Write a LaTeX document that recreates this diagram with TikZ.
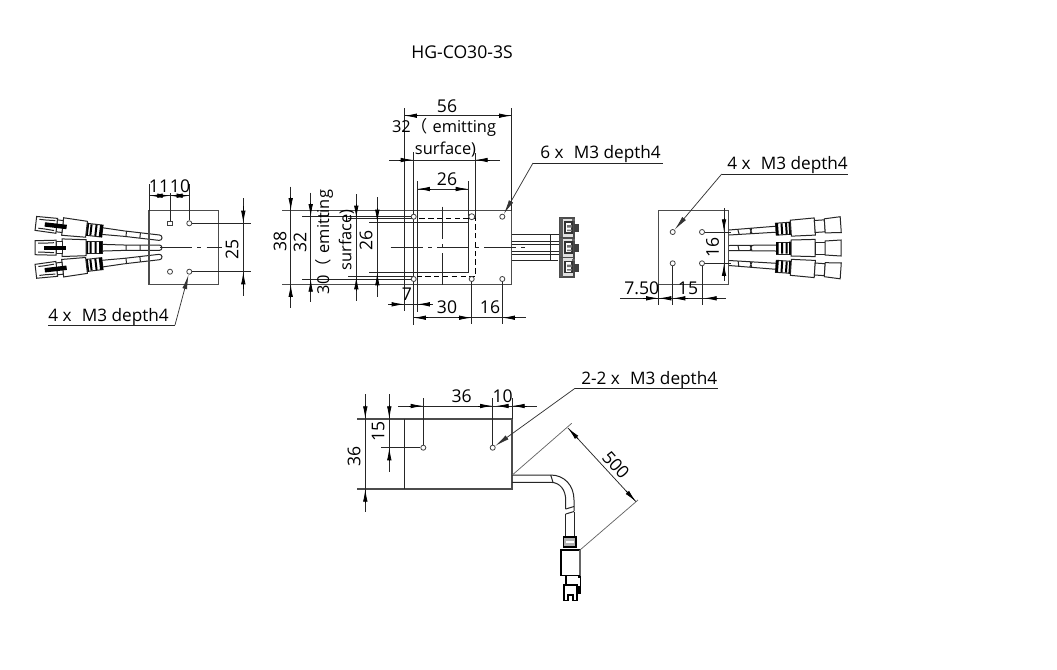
\documentclass[tikz,border=0pt]{standalone}
\usepackage{fontspec}
\setmainfont{Open Sans}
\newfontfamily\cjkparen{Noto Sans CJK SC}
\usetikzlibrary{arrows.meta,calc}
\tikzset{
  outline/.style={draw=black!70,line width=0.9pt},
  thin line/.style={draw=black!85,line width=0.55pt},
  dimtip/.style={draw=black,line width=0.6pt,-{Latex[length=9.5pt,width=3.4pt]}},
  leadertip/.style={draw=black!80,line width=0.55pt,-{Latex[length=11pt,width=3.6pt]}},
  centerline/.style={draw=black!85,line width=0.45pt,dash pattern=on 24pt off 4pt on 3pt off 4pt},
  hole/.style={circle,draw=black!75,fill=white,line width=0.6pt,inner sep=0pt,minimum size=3.8pt},
  sqhole/.style={rectangle,draw=black!75,fill=white,line width=0.6pt,inner sep=0pt,minimum size=3.3pt},
  lbl/.style={inner sep=0pt,font=\fontsize{13.2pt}{14pt}\selectfont,text=black},
  note/.style={lbl,font=\fontsize{12.9pt}{14pt}\selectfont},
  emit/.style={lbl,font=\fontsize{12.3pt}{14pt}\selectfont},
  partline/.style={draw=black!85,line width=0.75pt},
}
\newcommand\tipseg[2]{\draw[dimtip] #1 -- #2;}
\newcommand\fw{{\cjkparen （}\,\,}
\newcommand\partL{%
  \draw[partline,fill=white,rounded corners=2pt] (38,-2.7) -- (0,-2.7) -- (0,2.7) -- (38,2.7);
  \draw[partline] (22,-2.7) -- (22,2.7) (36,-2.7) -- (36,2.7) (38,-2.7) -- (62,-3.4) (38,2.7) -- (62,3.4);
  \draw[partline,fill=white] (60,-6) rectangle (75,6);
  \fill[black] (60,-6) rectangle (63,6) (65.5,-5.5) rectangle (67.5,5.5) (70.5,-5.5) rectangle (72.5,5.5) (74,-6.5) rectangle (76,6.5);
  \draw[partline,fill=white] (76,-8) -- (100,-8.8) -- (100,8.8) -- (76,8) -- cycle;
  \draw[partline,fill=white] (100,-6) rectangle (106,6);
  \draw[partline,fill=white] (106,-7.5) -- (127,-7) -- (127,7) -- (106,7.5) -- cycle;
  \fill[black] (96,-2.2) rectangle (118,2.2);
  \draw[partline] (118,-4.5) -- (124,-4.5) (118,4.5) -- (124,4.5) (108,-5) -- (118,-4.5) (108,5) -- (118,4.5);
}
\newcommand\partR[1]{%
  \draw[partline] (0,-2.5) -- (#1,-3) (0,2.5) -- (#1,3);
  \draw[partline] (9,-2.5) -- (10,2.5) (21,-2.7) -- (23,2.7) (23,-2.7) -- (21,2.7);
  \draw[partline,fill=white] (#1,-6) rectangle ({#1+14},6);
  \fill[black] (#1,-6) rectangle ({#1+2.5},6) ({#1+5},-5.5) rectangle ({#1+7},5.5) ({#1+9.5},-5.5) rectangle ({#1+11.5},5.5) ({#1+13},-6.5) rectangle ({#1+15},6.5);
  \draw[partline,fill=white] ({#1+15},-8) -- ({#1+39},-8.6) -- ({#1+39},8.6) -- ({#1+15},8) -- cycle;
  \draw[partline,fill=white] ({#1+39},-6) rectangle ({#1+49},6);
  \draw[partline,fill=white] ({#1+49},-7) -- ({#1+65},-8) -- ({#1+65},8) -- ({#1+49},7) -- cycle;
}
\newcommand\plugpart[2]{%
  \begin{scope}[shift={(#1,#2)}]
    \draw[draw=black!70,line width=1pt,fill=black!12] (0,0) rectangle (14,19.5);
    \fill[black!65] (0,0) rectangle (2.5,19.5);
    \draw[draw=black!80,line width=0.8pt,fill=white] (5,4) rectangle (12,15);
    \fill[black!55] (7,7) rectangle (12,9.5) (7,11.5) rectangle (12,13);
    \fill[black!75] (14,6) rectangle (18.5,14);
    \fill[black!60] (12,1) rectangle (15,3);
  \end{scope}
}
\begin{document}
\begin{tikzpicture}[x=0.75pt,y=-0.75pt]
\useasboundingbox (0,0) rectangle (1057,669);
\fill[white] (0,0) rectangle (1057,669);

\node[lbl] (title) at (462,52) {HG-CO30-3S};

%%% ---------- left view ----------
\begin{scope}[shift={(162,238)},rotate=-6.6,xscale=-1]\partL\end{scope}
\begin{scope}[shift={(162,247.7)},xscale=-1]\partL\end{scope}
\begin{scope}[shift={(162,256.7)},rotate=6.6,xscale=-1]\partL\end{scope}
\draw[outline] (149,210.7) rectangle (218.3,284.3);
\draw[centerline] (160,247.7) -- (222,247.7);
\node[sqhole] (la) at (170,223.3) {};
\node[hole] (lb) at (189.3,223.3) {};
\node[hole] (lc) at (170,271.7) {};
\node[hole] (ld) at (189.3,271.7) {};
\draw[thin line] (149,184) -- (149,210.7)
  (la) -- (170,193) (lb) -- (189.3,184)
  (lb) -- (251,223.3) (ld) -- (251,271.7)
  (149,195.7) -- (189.3,195.7);
\tipseg{(163,195.7)}{(150,195.7)}
\tipseg{(157,195.7)}{(170,195.7)}
\tipseg{(176,195.7)}{(189.3,195.7)}
\tipseg{(183,195.7)}{(170,195.7)}
\node[lbl] (l11) at (159,186) {11};
\node[lbl] (l10) at (180,186) {10};
\draw[thin line] (243.3,198) -- (243.3,296);
\tipseg{(243.3,206)}{(243.3,223.3)}
\tipseg{(243.3,289)}{(243.3,271.7)}
\node[lbl,rotate=90] (l25) at (232,249) {25};
\node[note,anchor=base west] (l4x) at (48,321.5) {4 x\,\, M3 depth4};
\coordinate (lu1) at (48,325);
\coordinate (lu2) at (175,325);
\draw[thin line,line width=0.7pt] (lu1) -- (lu2);
\draw[leadertip] (lu2) -- (ld);

%%% ---------- centre view ----------
\draw[outline] (282,210.7) -- (511.7,210.7) -- (511.7,284.3) -- (282,284.3);
\draw[thin line] (404.3,108) -- (404.3,311) (511.7,108) -- (511.7,210.7);
\draw[thin line] (369,222.3) -- (468.3,222.3) (369,272.7) -- (468.3,272.7)
  (417.3,181) -- (417.3,311.7) (468.3,181) -- (468.3,272.7);
\draw[draw=black,line width=0.6pt,dashed,dash pattern=on 4pt off 2.6pt] (413.3,218.3) rectangle (475,276.7);
\draw[thin line] (413.3,152) -- (413.3,325) (475,153) -- (475,218.3);
\draw[thin line] (348,218.3) -- (413.3,218.3) (348,276.7) -- (413.3,276.7);
\draw[centerline] (390.7,247.3) -- (525,247.3);
\draw[centerline] (442,206.7) -- (442,288.3);
\node[hole] (ca) at (413.7,216.7) {};
\node[hole,minimum size=4.5pt] (cb) at (471.7,216.7) {};
\node[hole] (cc) at (502.3,216.7) {};
\node[hole] (cd) at (413.7,279) {};
\node[hole] (ce) at (471.7,279) {};
\node[hole] (cf) at (502.3,279) {};
\draw[thin line] (302.3,216.7) -- (ca) (302.3,279) -- (cd)
  (ce) -- (471.7,324) (cf) -- (502.3,324);
% cables right
\draw[partline] (511.7,234.3) -- (560,234.3) (511.7,241) -- (560,241) (511.7,244.3) -- (560,244.3)
  (511.7,251) -- (560,251) (511.7,254) -- (560,254) (511.7,260.7) -- (558,260.7)
  (550.7,234.3) -- (550.7,260.7);
\plugpart{560}{218}\plugpart{560}{238}\plugpart{560}{257.5}
% dim 56
\draw[thin line] (404.3,115.7) -- (511.7,115.7);
\tipseg{(418,115.7)}{(404.3,115.7)}
\tipseg{(498,115.7)}{(511.7,115.7)}
\node[lbl] (c56) at (447,106) {56};
% dim 32 horizontal
\draw[thin line] (389,160) -- (500,160);
\tipseg{(399,160)}{(413.3,160)}
\tipseg{(490,160)}{(475,160)}
\node[emit] (c32a) at (444,127.5) {32\fw emitting};
\node[emit] (c32b) at (445.5,149.5) {surface)};
% dim 26 horizontal
\draw[thin line] (417.3,189) -- (468.3,189);
\tipseg{(431,189)}{(417.3,189)}
\tipseg{(455,189)}{(468.3,189)}
\node[lbl] (c26) at (447,179) {26};
% left dims
\draw[thin line] (290.7,186.7) -- (290.7,308);
\tipseg{(290.7,197)}{(290.7,210.7)}
\tipseg{(290.7,298)}{(290.7,284.3)}
\node[lbl,rotate=90] (c38) at (280,241.7) {38};
\draw[thin line] (310.7,192.7) -- (310.7,302);
\tipseg{(310.7,203)}{(310.7,216.7)}
\tipseg{(310.7,292)}{(310.7,279)}
\node[lbl,rotate=90] (c32) at (300,242) {32};
\draw[thin line] (356.3,194) -- (356.3,300.7);
\tipseg{(356.3,204)}{(356.3,218.3)}
\tipseg{(356.3,291)}{(356.3,276.7)}
\node[emit,rotate=90] (c30a) at (324,242) {30\fw emitting};
\node[emit,rotate=90] (c30b) at (346.5,240) {surface)};
\draw[thin line] (377.3,197.3) -- (377.3,296.7);
\tipseg{(377.3,208)}{(377.3,222.3)}
\tipseg{(377.3,287)}{(377.3,272.7)}
\node[lbl,rotate=90] (c26v) at (366,240) {26};
% bottom dims
\draw[thin line] (388,304.3) -- (433,304.3);
\tipseg{(390,304.3)}{(404.3,304.3)}
\tipseg{(431,304.3)}{(417.3,304.3)}
\node[lbl] (c7) at (407,294) {7};
\draw[thin line] (413.3,317.7) -- (526,317.7);
\tipseg{(428,317.7)}{(413.3,317.7)}
\tipseg{(458,317.7)}{(471.7,317.7)}
\tipseg{(516,317.7)}{(502.3,317.7)}
\node[lbl] (c30) at (447,307) {30};
\node[lbl] (c16) at (490,307) {16};
% leader
\node[note,anchor=base west] (c6x) at (540,158.5) {6 x\,\, M3 depth4};
\coordinate (cu1) at (533,163);
\coordinate (cu2) at (663,163);
\draw[thin line,line width=0.7pt] (cu1) -- (cu2);
\draw[leadertip] (cu1) -- (cc);

%%% ---------- right view ----------
\begin{scope}[shift={(729,232.5)},rotate=4]\partR{47}\end{scope}
\begin{scope}[shift={(729,248)}]\partR{47}\end{scope}
\begin{scope}[shift={(729,263)},rotate=-4]\partR{47}\end{scope}
\draw[outline] (658.7,210.7) rectangle (728.3,284.3);
\node[hole] (ra) at (672.7,232) {};
\node[hole] (rb) at (702,232) {};
\node[hole] (rc) at (672.7,263.3) {};
\node[hole] (rd) at (702,263.3) {};
\draw[thin line] (rb) -- (731,232) (rd) -- (731,263.3)
  (724,208) -- (724,281)
  (658.7,284.3) -- (658.7,305) (rc) -- (672.7,305) (rd) -- (702,305)
  (620,298.3) -- (725.7,298.3);
\tipseg{(724,218)}{(724,232)}
\tipseg{(724,277)}{(724,263.3)}
\node[lbl,rotate=90] (r16) at (712.7,247.3) {16};
\tipseg{(643,298.3)}{(658.7,298.3)}
\tipseg{(669,298.3)}{(658.7,298.3)}
\tipseg{(688,298.3)}{(672.7,298.3)}
\tipseg{(718,298.3)}{(704,298.3)}
\node[lbl] (r750) at (641.7,288) {7.50};
\node[lbl] (r15) at (688,288) {15};
\node[note,anchor=base west] (r4x) at (727,169.5) {4 x\,\, M3 depth4};
\coordinate (ru1) at (721.7,174);
\coordinate (ru2) at (848,174);
\draw[thin line,line width=0.7pt] (ru1) -- (ru2);
\draw[leadertip] (ru1) -- (ra);

%%% ---------- bottom view ----------
\draw[outline] (357.3,419) -- (512,419) -- (512,489) -- (357.3,489);
\draw[thin line] (404,419) -- (404,489);
\node[hole] (ba) at (423.3,447.7) {};
\node[hole] (bb) at (492.7,447.7) {};
\draw[thin line] (381,447.7) -- (ba) (ba) -- (423.3,398) (bb) -- (492.7,398) (512,398) -- (512,419);
\draw[thin line] (365.3,394) -- (365.3,511.7);
\tipseg{(365.3,405)}{(365.3,419)}
\tipseg{(365.3,503)}{(365.3,489)}
\node[lbl,rotate=90] (b36v) at (354,456.7) {36};
\draw[thin line] (389.3,394) -- (389.3,471.7);
\tipseg{(389.3,405)}{(389.3,419)}
\tipseg{(389.3,461)}{(389.3,447.7)}
\node[lbl,rotate=90] (b15) at (378.3,431.7) {15};
\draw[thin line] (398.3,406) -- (536.7,406);
\tipseg{(409,406)}{(423.3,406)}
\tipseg{(478,406)}{(492.7,406)}
\tipseg{(509,406)}{(496,406)}
\tipseg{(527,406)}{(512,406)}
\node[lbl] (b36) at (461.7,396) {36};
\node[lbl] (b10) at (502.7,396) {10};
\node[note,anchor=base west] (b2x) at (581,384) {2-2 x\,\, M3 depth4};
\coordinate (bu1) at (575,388.3);
\coordinate (bu2) at (718.3,388.3);
\draw[thin line,line width=0.7pt] (bu1) -- (bu2);
\draw[leadertip] (bu1) -- (bb);
% cable
\draw[partline] (512,475) -- (550.7,475) .. controls (564,475) and (574,485) .. (574,500) -- (574,511);
\draw[partline] (512,482.3) -- (550.7,482.3) .. controls (560,482.3) and (565.7,490) .. (565.7,500) -- (565.7,509);
\draw[partline] (550.7,475) -- (553,482.3);
\draw[partline] (565.7,509) -- (574,506.5) (565.7,514) -- (574,511.5);
\draw[partline] (565.7,514) -- (565.7,536.7) (574,511.5) -- (574,536.7);
% plug
\draw[draw=black,line width=1.2pt,fill=black!30] (563.5,537) rectangle (576,547);
\fill[white] (566,540.8) rectangle (574,543);
\draw[draw=black,line width=0.9pt,fill=white] (561,550) rectangle (580,575.5);
\fill[black!60] (578.5,550) rectangle (580.5,575.5);
\draw[draw=black,line width=0.8pt,fill=white] (566,575.5) rectangle (579,585);
\draw[draw=black,line width=1.6pt] (564,600.5) -- (564,585) -- (577,585) -- (577,600.5);
\draw[draw=black,line width=1.2pt] (564,600.5) -- (568,600.5) -- (568,595) -- (573,595) -- (573,600.5) -- (577,600.5);
\fill[black] (578,575.5) rectangle (581,594);
\fill[white] (577.7,578) rectangle (579.7,586);
% dim 500
\coordinate (e1) at (512.3,475);
\coordinate (e2) at (571.7,423.3);
\coordinate (e3) at (580,550);
\coordinate (e4) at (638,500);
\draw[thin line,draw=black!60] (e1) -- (e2) (e3) -- (e4);
\coordinate (d1) at (568,428);
\coordinate (d2) at (636,501.7);
\draw[thin line] (d1) -- (d2);
\tipseg{($(d1)+(10,10.8)$)}{(d1)}
\tipseg{($(d2)+(-10,-10.8)$)}{(d2)}
\node[lbl,rotate=-48] (b500) at (616,465) {500};
\end{tikzpicture}
\end{document}
